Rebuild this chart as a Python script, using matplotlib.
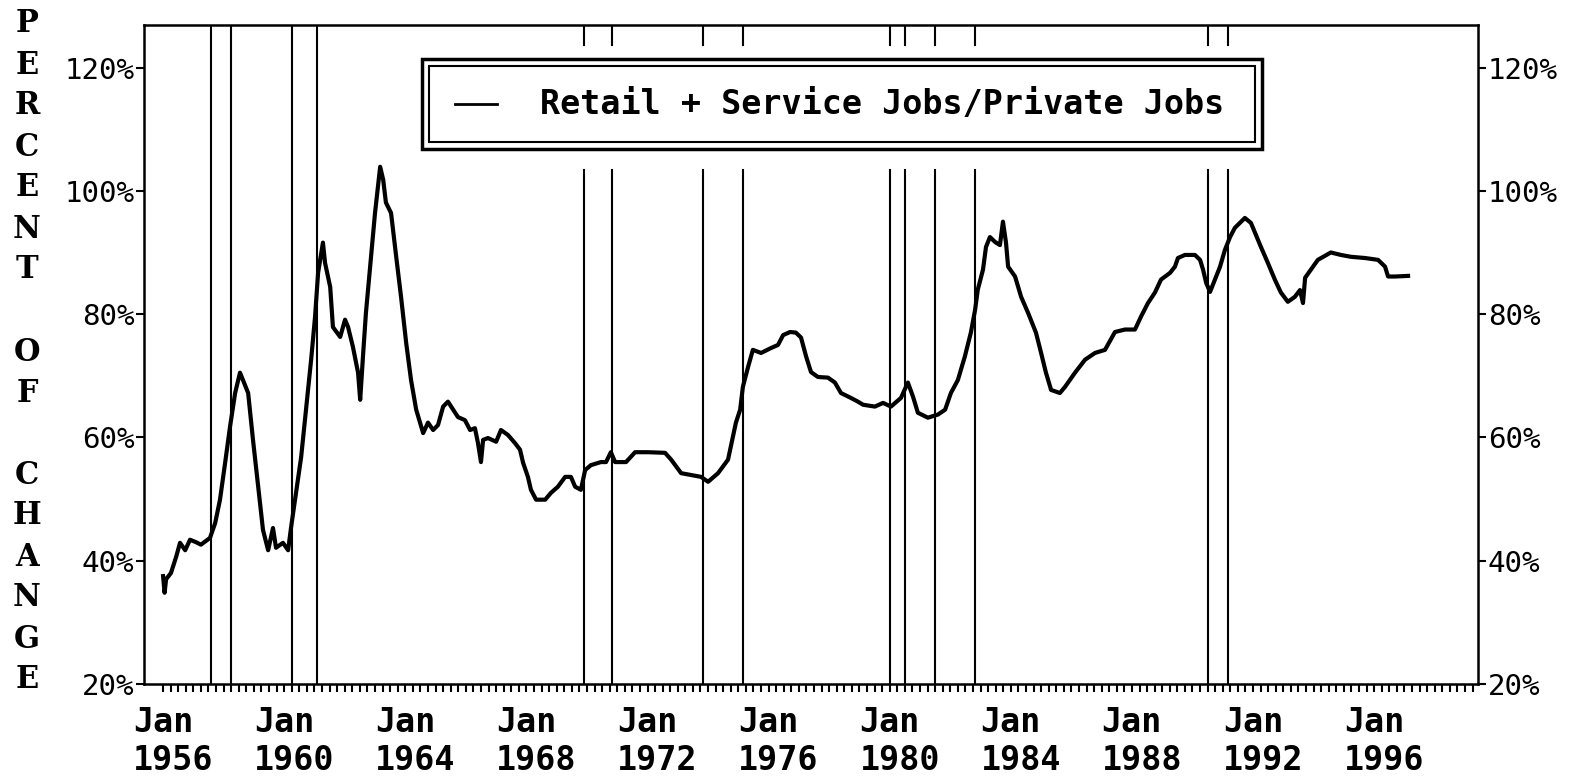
import numpy as np
import matplotlib
matplotlib.use("Agg")
import matplotlib.pyplot as plt
from matplotlib.patches import Rectangle
from matplotlib.lines import Line2D
from matplotlib.transforms import blended_transform_factory

# decimal year / percent
years = [1956.00, 1956.05, 1956.10, 1956.26, 1956.43, 1956.56, 1956.73, 1956.89, 1957.09, 1957.25,
         1957.55, 1957.72, 1957.88, 1958.05, 1958.21, 1958.38, 1958.54, 1958.64, 1958.81, 1958.97,
         1959.14, 1959.30, 1959.47, 1959.63, 1959.73, 1959.96, 1960.13, 1960.23, 1960.39, 1960.56,
         1960.72, 1960.89, 1961.02, 1961.12, 1961.28, 1961.35, 1961.52, 1961.61, 1961.85, 1962.01,
         1962.11, 1962.27, 1962.44, 1962.51, 1962.61, 1962.70, 1962.84, 1963.00, 1963.17, 1963.27,
         1963.36, 1963.53, 1963.70, 1963.86, 1964.03, 1964.19, 1964.36, 1964.59, 1964.75, 1964.92,
         1965.08, 1965.25, 1965.41, 1965.58, 1965.74, 1965.97, 1966.14, 1966.30, 1966.40, 1966.50,
         1966.57, 1966.73, 1967.00, 1967.16, 1967.39, 1967.62, 1967.79, 1967.89, 1968.05, 1968.15,
         1968.32, 1968.62, 1968.81, 1969.04, 1969.28, 1969.47, 1969.61, 1969.80, 1969.94, 1970.13,
         1970.46, 1970.63, 1970.79, 1970.93, 1971.29, 1971.59, 1972.02, 1972.58, 1972.78, 1973.11,
         1973.44, 1973.77, 1974.00, 1974.33, 1974.66, 1974.82, 1974.92, 1975.06, 1975.15, 1975.32,
         1975.48, 1975.75, 1976.08, 1976.31, 1976.48, 1976.71, 1976.90, 1977.07, 1977.24, 1977.40,
         1977.63, 1977.96, 1978.19, 1978.39, 1978.72, 1978.95, 1979.12, 1979.51, 1979.78, 1980.04,
         1980.37, 1980.60, 1980.77, 1980.93, 1981.26, 1981.59, 1981.83, 1982.02, 1982.25, 1982.48,
         1982.68, 1982.82, 1982.91, 1983.08, 1983.18, 1983.31, 1983.48, 1983.64, 1983.74, 1983.84,
         1983.91, 1984.14, 1984.34, 1984.57, 1984.83, 1985.00, 1985.16, 1985.33, 1985.62, 1985.79,
         1986.12, 1986.45, 1986.78, 1987.11, 1987.44, 1987.77, 1988.10, 1988.30, 1988.53, 1988.76,
         1988.96, 1989.26, 1989.42, 1989.52, 1989.75, 1990.08, 1990.25, 1990.35, 1990.45, 1990.58,
         1990.74, 1990.91, 1991.07, 1991.24, 1991.40, 1991.73, 1991.93, 1992.09, 1992.26, 1992.49,
         1992.72, 1992.92, 1993.15, 1993.38, 1993.55, 1993.65, 1993.72, 1993.91, 1994.14, 1994.57,
         1994.90, 1995.23, 1995.70, 1996.13, 1996.36, 1996.46, 1996.69, 1997.12]
ratio = [37.5, 34.8, 37.0, 38.0, 40.6, 42.9, 41.7, 43.4, 43.0, 42.6,
         43.7, 46.1, 49.9, 55.9, 61.7, 67.2, 70.5, 69.3, 67.2, 59.6,
         52.0, 45.0, 41.7, 45.3, 42.1, 42.9, 41.7, 45.5, 51.0, 56.8,
         64.5, 72.6, 79.6, 86.7, 91.6, 88.3, 84.4, 77.9, 76.3, 79.1,
         77.9, 74.7, 70.5, 66.1, 73.7, 80.2, 87.7, 96.4, 103.9, 101.8,
         98.1, 96.4, 89.3, 82.8, 75.3, 69.3, 64.5, 60.7, 62.4, 61.2,
         62.0, 65.0, 65.8, 64.5, 63.3, 62.8, 61.2, 61.5, 59.1, 56.0,
         59.6, 59.9, 59.3, 61.2, 60.4, 59.1, 58.0, 55.9, 53.6, 51.5,
         49.9, 49.9, 51.0, 52.0, 53.6, 53.6, 52.0, 51.5, 54.7, 55.5,
         56.0, 56.0, 57.6, 56.0, 56.0, 57.6, 57.6, 57.5, 56.4, 54.2,
         53.9, 53.6, 52.8, 54.2, 56.4, 60.1, 62.4, 64.5, 68.2, 71.4,
         74.2, 73.7, 74.5, 75.0, 76.6, 77.1, 77.0, 76.2, 73.1, 70.6,
         69.8, 69.7, 68.9, 67.2, 66.4, 65.8, 65.3, 65.0, 65.6, 65.0,
         66.4, 68.9, 66.6, 64.0, 63.2, 63.7, 64.5, 67.2, 69.3, 73.1,
         77.0, 80.7, 84.0, 87.2, 90.9, 92.5, 91.7, 91.2, 95.0, 91.6,
         87.7, 86.1, 82.8, 80.2, 77.0, 73.7, 70.5, 67.7, 67.2, 68.2,
         70.5, 72.6, 73.7, 74.2, 77.1, 77.5, 77.5, 79.6, 81.8, 83.5,
         85.6, 86.7, 87.7, 89.1, 89.6, 89.6, 88.8, 87.2, 85.1, 83.6,
         85.6, 87.7, 90.4, 92.5, 94.0, 95.6, 94.8, 92.9, 90.9, 88.3,
         85.6, 83.5, 82.0, 82.8, 83.9, 81.8, 85.9, 87.2, 88.8, 90.0,
         89.6, 89.3, 89.1, 88.8, 87.7, 86.1, 86.1, 86.2]

# recession start / end months
recession_starts = [1957.583, 1960.25, 1969.917, 1973.833, 1980.0, 1981.5, 1990.5]
recession_ends = [1958.25, 1961.083, 1970.833, 1975.167, 1980.5, 1982.833, 1991.167]

label_years = [1956, 1960, 1964, 1968, 1972, 1976, 1980, 1984, 1988, 1992, 1996]
y_ticks = [20, 40, 60, 80, 100, 120]
legend_label = "Retail + Service Jobs/Private Jobs"
ylabel_text = "PERCENT OF CHANGE"

W, H = 1583, 779
plt.rcParams['font.family'] = ['DejaVu Sans Mono']

fig = plt.figure(figsize=(W / 100, H / 100), dpi=100)
ax = fig.add_axes([144 / W, 1 - 684 / H, (1478 - 144) / W, (684 - 25) / H])
xmin, xmax = 1955.37, 1999.43
ax.set_xlim(xmin, xmax)
ax.set_ylim(20, 126.9)

ax.plot(years, ratio, color='black', lw=3)

# legend box (axes fraction); recession lines break around it
lx0, lx1 = 0.2084, 0.8381
gap_lo, gap_hi = 0.780, 0.970
for x in recession_starts + recession_ends:
    fx = (x - xmin) / (xmax - xmin)
    if lx0 < fx < lx1:
        ax.axvline(x, 0, gap_lo, color='black', lw=1.5)
        ax.axvline(x, gap_hi, 1, color='black', lw=1.5)
    else:
        ax.axvline(x, color='black', lw=1.5)

ax.add_patch(Rectangle((lx0, 0.8118), lx1 - lx0, 0.9484 - 0.8118, transform=ax.transAxes,
                       fill=False, lw=2.5, ec='black'))
ax.add_patch(Rectangle((0.2136, 0.8225), 0.8328 - 0.2136, 0.9378 - 0.8225, transform=ax.transAxes,
                       fill=False, lw=1.5, ec='black'))
ax.add_line(Line2D([0.2331, 0.2646], [0.8801, 0.8801], transform=ax.transAxes, color='black', lw=2))
ax.text(0.2969, 0.8801, legend_label, transform=ax.transAxes, ha='left', va='center',
        fontsize=24, fontweight='bold')

for s in ax.spines.values():
    s.set_linewidth(1.8)

ax.set_xticks(np.arange(1956, xmax, 0.25))
ax.tick_params(axis='x', direction='out', length=6, width=1.5, labelbottom=False)
ax.set_yticks(y_ticks)
ax.set_yticklabels([f"{v}%" for v in y_ticks])
ax.tick_params(axis='y', direction='out', length=6, width=1.5, labelsize=21, pad=1,
               left=True, right=True, labelleft=True, labelright=True)

tr = blended_transform_factory(ax.transData, fig.transFigure)
for yr in label_years:
    ax.text(yr - 1.0, 1 - 723 / H, "Jan", transform=tr, ha='left', va='center',
            fontsize=24, fontweight='bold')
    ax.text(yr - 1.0, 1 - 761 / H, str(yr), transform=tr, ha='left', va='center',
            fontsize=24, fontweight='bold')

for i, ch in enumerate(ylabel_text):
    if ch != ' ':
        fig.text(27 / W, 1 - (24 + i * 41) / H, ch, ha='center', va='center',
                 fontsize=22, fontweight='bold', family='DejaVu Serif')

fig.savefig("out.png", dpi=100, facecolor='white')
